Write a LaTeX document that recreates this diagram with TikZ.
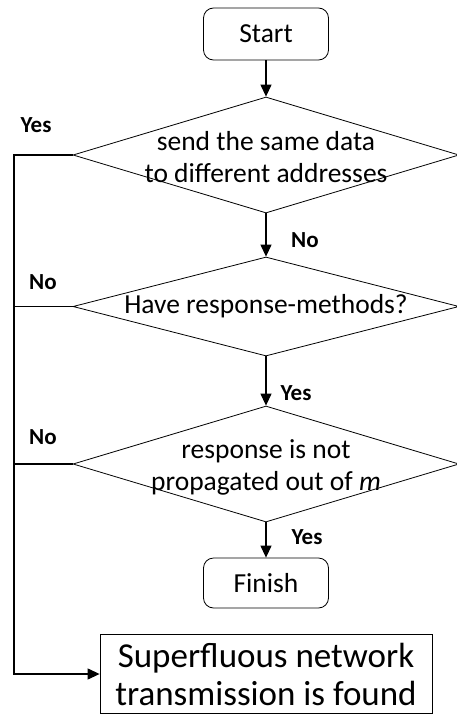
\documentclass[tikz,border=0pt]{standalone}
\usepackage{fontspec}
\setmainfont{Carlito}
\usetikzlibrary{shapes.geometric,arrows.meta}
\begin{document}
\begin{tikzpicture}[x=1pt,y=-1pt,
  term/.style={draw,rounded corners=10pt,line width=0.8pt,minimum width=125pt,inner sep=0pt,font=\fontsize{27.5}{30}\selectfont},
  dia/.style={draw,diamond,line width=0.8pt,inner sep=0pt,minimum width=386pt},
  dtext/.style={align=center,inner sep=0pt,font=\fontsize{27.5}{32}\selectfont},
  lbl/.style={font=\bfseries\fontsize{23}{25}\selectfont,inner sep=0pt},
  conn/.style={line width=1.2pt,-{Triangle[length=12pt,width=11pt]}},
  plain/.style={line width=1.2pt}]
\useasboundingbox (0,0) rectangle (456,715);
\node[term,minimum height=52pt] (start) at (266,34) {Start};
\node[dia,minimum height=116pt] (d1) at (266,155) {};
\node[dtext] (t1) at (266,157) {send the same data\\to different addresses};
\node[dia,minimum height=99pt] (d2) at (266,306.5) {};
\node[dtext] (t2) at (266,306.5) {Have response-methods?};
\node[dia,minimum height=116pt] (d3) at (266,464) {};
\node[dtext] (t3) at (266,467) {response is not\\propagated out of \textit{m}};
\node[term,minimum height=50pt] (finish) at (266,583) {Finish};
\node[draw,line width=0.8pt,minimum width=332pt,minimum height=79pt,inner sep=0pt,align=center,font=\fontsize{35}{38}\selectfont] (sf) at (266,674) {Superfluous network\\transmission is found};
\coordinate (lx) at (14,155);
\draw[conn] (start.south) -- (d1.north);
\draw[conn] (d1.south) -- (d2.north);
\draw[conn] (d2.south) -- (d3.north);
\draw[conn] (d3.south) -- (finish.north);
\draw[conn] (d1.west) -- (lx) |- (sf.west);
\draw[plain] (d2.west) -- (d2.west -| lx);
\draw[plain] (d3.west) -- (d3.west -| lx);
\node[lbl] (y1) at (36,125) {Yes};
\node[lbl] (n1) at (305,240) {No};
\node[lbl] (n2) at (43,282) {No};
\node[lbl] (y2) at (296,393) {Yes};
\node[lbl] (n3) at (43,437) {No};
\node[lbl] (y3) at (307,537) {Yes};
\end{tikzpicture}
\end{document}
